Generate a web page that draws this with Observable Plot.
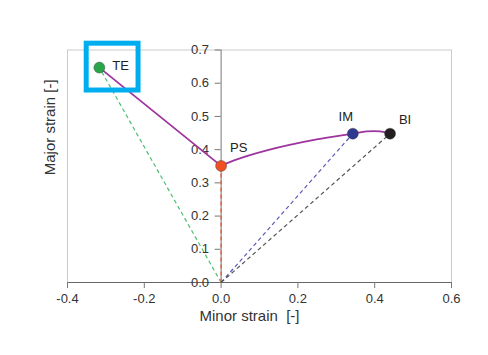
<!DOCTYPE html>
<html><head><meta charset="utf-8">
<script src="https://cdn.jsdelivr.net/npm/d3@7"></script>
<script src="https://cdn.jsdelivr.net/npm/@observablehq/plot@0.6"></script>
<style>body{margin:0;background:#fff;} svg{font-family:"Liberation Sans",Arial,sans-serif;}</style>
</head><body><div id="chart"></div>
<script>
// Key points
const pointNames = ["TE", "PS", "IM", "BI"];
const pointX = [-0.317, 0, 0.343, 0.440];
const pointY = [0.647, 0.351, 0.448, 0.448];
const pointColors = ["#2aa64a", "#f04e23", "#2e3a8f", "#231f20"];
const dashColors = ["#4cc070", "#f04e23", "#5a5ab8", "#555555"];
// Purple path: straight TE->PS, curved PS->BI
const straightX = [-0.317, 0];
const straightY = [0.647, 0.351];
const curveX = [0, 0.032, 0.119, 0.249, 0.343, 0.379, 0.414, 0.440];
const curveY = [0.351, 0.367, 0.398, 0.431, 0.448, 0.455, 0.455, 0.448];
// Ticks
const xTicks = [-0.4, -0.2, 0, 0.2, 0.4, 0.6];
const yTicks = [0, 0.1, 0.2, 0.3, 0.4, 0.5, 0.6, 0.7];
// Highlight box around TE
const boxX1 = [-0.350], boxX2 = [-0.215], boxY1 = [0.578], boxY2 = [0.719];

const idx = pointNames.map((_, i) => i);
const labelDx = [13, 9, -7, 15];
const labelDy = [-2, -18, -17, -14];
const labelAnchor = ["start", "start", "middle", "middle"];

const marks = [
  Plot.frame({stroke: "#cccccc"}),
  Plot.ruleX([0], {y1: 0, y2: 0.7, stroke: "#777"}),
  Plot.ruleY(yTicks, {x1: -0.0156, x2: 0, stroke: "#777"}),
  Plot.ruleY([0], {stroke: "#666"}),
  Plot.axisX(xTicks, {tickSize: 6, tickPadding: 5, tickFormat: d => d.toFixed(1), fontSize: 13, fill: "#333", stroke: "#777", label: null}),
  Plot.text(yTicks, {x: 0, y: d => d, text: d => d.toFixed(1), textAnchor: "end", dx: -12, fontSize: 13, fill: "#333"}),
];
idx.forEach(i => {
  marks.push(Plot.link([i], {x1: 0, y1: 0, x2: pointX[i], y2: pointY[i], stroke: dashColors[i], strokeWidth: 1.2, strokeDasharray: "4,3"}));
});
marks.push(
  Plot.line(straightX.map((x, i) => [x, straightY[i]]), {x: d => d[0], y: d => d[1], stroke: "#9e349e", strokeWidth: 1.8}),
  Plot.line(curveX.map((x, i) => [x, curveY[i]]), {x: d => d[0], y: d => d[1], stroke: "#9e349e", strokeWidth: 1.8, curve: "catmull-rom"})
);
idx.forEach(i => {
  marks.push(Plot.dot([i], {x: pointX[i], y: pointY[i], r: 5.5, fill: pointColors[i], stroke: "#333", strokeWidth: 0.4}));
  marks.push(Plot.text([pointNames[i]], {x: pointX[i], y: pointY[i], text: d => d, dx: labelDx[i], dy: labelDy[i], textAnchor: labelAnchor[i], fontSize: 13, fill: "#222"}));
});
marks.push(
  Plot.rect([0], {x1: boxX1[0], x2: boxX2[0], y1: boxY1[0], y2: boxY2[0], fill: "none", stroke: "#00aeef", strokeWidth: 5}),
  Plot.text(["Minor strain\u00a0\u00a0[-]"], {text: d => d, frameAnchor: "bottom", dy: 38, dx: -10, fontSize: 15, fill: "#333"}),
  Plot.text(["Major strain [-]"], {text: d => d, frameAnchor: "left", rotate: -90, dx: -17, dy: 9, fontSize: 15, fill: "#333"})
);

const chart = Plot.plot({
  width: 488, height: 355,
  marginLeft: 67, marginRight: 37, marginTop: 49.5, marginBottom: 73,
  x: {domain: [-0.4, 0.6]},
  y: {domain: [0, 0.7], axis: null},
  marks
});
document.getElementById("chart").appendChild(chart);
</script></body></html>
